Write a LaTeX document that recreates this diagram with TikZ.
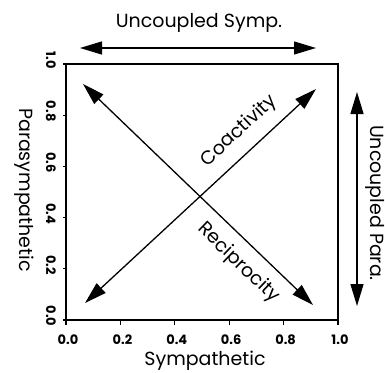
\documentclass[tikz,border=0pt]{standalone}
\usepackage{fontspec}
\setmainfont{Poppins}
\usetikzlibrary{arrows.meta}

\begin{document}
\begin{tikzpicture}[x=1pt, y=-1pt,
  lbl/.style={font=\fontsize{19}{22}\selectfont, inner sep=1pt},
  ticklbl/.style={font=\fontsize{13}{15}\selectfont\bfseries, inner sep=1pt},
  arr/.style={{Triangle[length=22pt,width=13pt]}-{Triangle[length=22pt,width=13pt]}, line width=1.3pt},
  frame/.style={line width=1.8pt}
]
  \useasboundingbox (0,0) rectangle (385,372);

  % plot frame and ticks
  \draw[frame] (66,64) rectangle (338,320);
  \foreach \i/\t in {0/0.0, 1/0.2, 2/0.4, 3/0.6, 4/0.8, 5/1.0} {
    \draw[line width=1.3pt] (66+\i*54.4,320) -- ++(0,5);
    \node[ticklbl] (x\i) at (68+\i*54.4,340) {\t};
    \draw[line width=1.3pt] (66,320-\i*51.2) -- ++(-3,0);
    \node[ticklbl, rotate=-90] (y\i) at (51,316-\i*51.2) {\t};
  }

  % axis labels
  \node[lbl] (sym)  at (205,361) {Sympathetic};
  \node[lbl, rotate=-90] (para) at (24,190) {Parasympathetic};
  \node[lbl] (usym) at (199,23) {Uncoupled Symp.};
  \node[lbl, rotate=-90] (upara) at (375,203) {Uncoupled Para.};

  % arrow ends
  \coordinate (sl) at (80,48);   \coordinate (sr) at (316,48);
  \coordinate (pt) at (357,92);  \coordinate (pb) at (357,306);
  \coordinate (bl) at (85,303);  \coordinate (tr) at (316,89);
  \coordinate (tl) at (83,84);   \coordinate (br) at (313,305);

  \draw[arr] (sl) -- (sr);
  \draw[arr] (pt) -- (pb);
  \draw[arr] (bl) -- node[pos=0.73, above=10pt, sloped, lbl] (coact) {Coactivity} (tr);
  \draw[arr] (tl) -- node[pos=0.74, below=10pt, sloped, lbl] (recip) {Reciprocity} (br);
\end{tikzpicture}
\end{document}
